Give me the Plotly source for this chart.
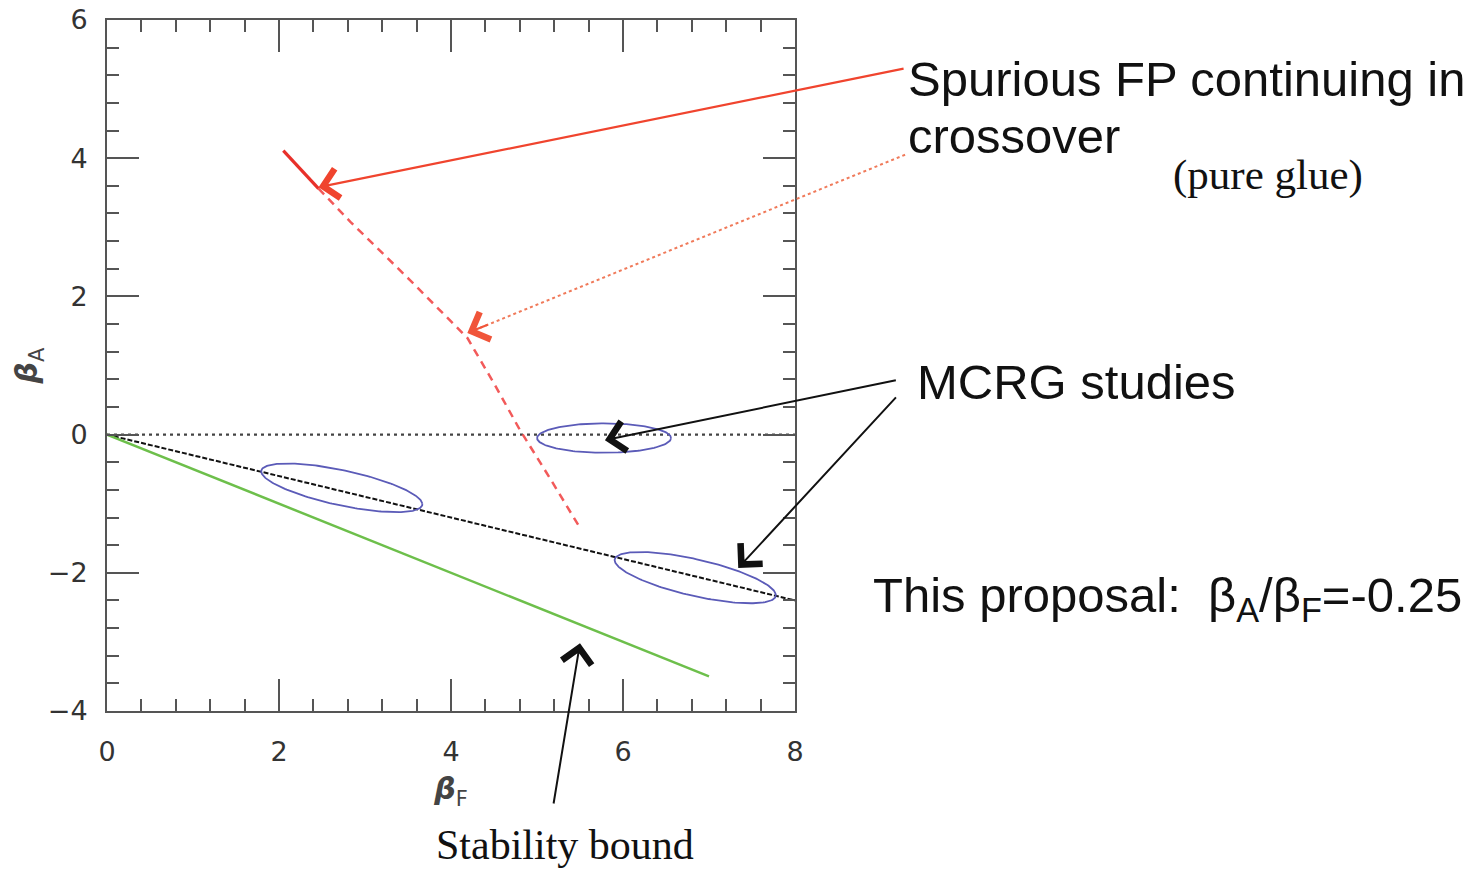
import numpy as np
import plotly.graph_objects as go

# ---------------- data ----------------
x_range = [0, 8]
y_range = [-4, 6]
x_ticks = [0, 2, 4, 6, 8]
y_ticks = [-4, -2, 0, 2, 4, 6]

zero_x = [0, 8]
zero_y = [0, 0]

proposal_x = [0, 8]
proposal_y = [0, -2.4]

stability_x = [0, 7]
stability_y = [0, -3.5]

fp_solid_x = [2.05, 2.46]
fp_solid_y = [4.11, 3.56]

fp_dash_x = [2.46, 2.83, 3.52, 4.19, 4.51, 4.80, 5.15, 5.50]
fp_dash_y = [3.56, 3.08, 2.24, 1.40, 0.72, 0.07, -0.63, -1.35]

# MCRG ellipses: centre, major semi-diameter vector, minor semi-diameter vector (data units)
ell_cx = [2.73, 5.78, 6.84]
ell_cy = [-0.77, -0.05, -2.07]
ell_ax = [0.936, 0.779, 0.936]
ell_ay = [-0.226, 0.0, -0.240]
ell_bx = [-0.042, 0.0, -0.046]
ell_by = [0.270, 0.213, 0.283]

# arrows: tip and tail in data units
arr_tip_x = [2.46, 4.19, 5.79, 7.34, 5.50]
arr_tip_y = [3.58, 1.47, -0.08, -1.93, -3.02]
arr_tail_x = [9.28, 9.28, 9.19, 9.19, 5.19]
arr_tail_y = [5.30, 4.05, 0.79, 0.56, -5.36]

# ---------------- figure ----------------
W, H = 1474, 870
ML, MR, MT, MB = 107, 679, 20, 159
PW, PH = W - ML - MR, H - MT - MB

def px2paper(px, py):
    return (px - ML) / PW, (H - MB - py) / PH

def d2paper(x, y):
    return ((x - x_range[0]) / (x_range[1] - x_range[0]),
            (y - y_range[0]) / (y_range[1] - y_range[0]))

fig = go.Figure()

fig.add_trace(go.Scatter(x=zero_x, y=zero_y, mode="lines",
                         line=dict(color="#444444", width=2.4, dash="3px,4px"),
                         hoverinfo="skip", showlegend=False))
fig.add_trace(go.Scatter(x=proposal_x, y=proposal_y, mode="lines",
                         line=dict(color="#111111", width=2, dash="5px,2px"),
                         hoverinfo="skip", showlegend=False))
fig.add_trace(go.Scatter(x=stability_x, y=stability_y, mode="lines",
                         line=dict(color="#6dbf4b", width=2.5),
                         hoverinfo="skip", showlegend=False))
fig.add_trace(go.Scatter(x=fp_dash_x, y=fp_dash_y, mode="lines",
                         line=dict(color="#f25a5a", width=2.5, dash="8px,6px"),
                         hoverinfo="skip", showlegend=False))
fig.add_trace(go.Scatter(x=fp_solid_x, y=fp_solid_y, mode="lines",
                         line=dict(color="#e8302a", width=3.2),
                         hoverinfo="skip", showlegend=False))

t = np.linspace(0, 2 * np.pi, 200)
for cx, cy, ax_, ay_, bx, by in zip(ell_cx, ell_cy, ell_ax, ell_ay, ell_bx, ell_by):
    fig.add_trace(go.Scatter(x=cx + ax_ * np.cos(t) + bx * np.sin(t),
                             y=cy + ay_ * np.cos(t) + by * np.sin(t),
                             mode="lines", line=dict(color="#5b5bb8", width=1.8),
                             hoverinfo="skip", showlegend=False))

arrow_colors = ["#f0442e", "#f0553a", "#111111", "#111111", "#111111"]
shaft_colors = ["#f0442e", "#f07a5a", "#111111", "#111111", "#111111"]
annotations = []
shapes = []
for i, (tx, ty, sx, sy) in enumerate(zip(arr_tip_x, arr_tip_y, arr_tail_x, arr_tail_y)):
    if i == 1:
        # dotted shaft drawn as a shape, arrowhead via a short annotation
        x0, y0 = d2paper(sx, sy)
        x1, y1 = d2paper(tx, ty)
        shapes.append(dict(type="line", xref="paper", yref="paper",
                           x0=x0, y0=y0, x1=x1, y1=y1,
                           line=dict(color=shaft_colors[i], width=2, dash="dot")))
        sx = tx + 0.05 * (sx - tx)
        sy = ty + 0.05 * (sy - ty)
    annotations.append(dict(x=tx, y=ty, xref="x", yref="y",
                            ax=sx, ay=sy, axref="x", ayref="y",
                            text="", showarrow=True, arrowhead=4,
                            arrowsize=2.6 if i < 2 else 2.9,
                            arrowwidth=2.2 if i < 2 else 2,
                            arrowcolor=arrow_colors[i], standoff=0))

sans = "Liberation Sans, Arial, sans-serif"
serif = "Liberation Serif, Times New Roman, serif"

def text_ann(txt, px, py, size, family, color="#111111"):
    x, y = px2paper(px, py)
    return dict(x=x, y=y, xref="paper", yref="paper", text=txt, showarrow=False,
                xanchor="left", yanchor="middle",
                font=dict(family=family, size=size, color=color))

annotations += [
    text_ann("Spurious FP continuing in", 906, 79, 49, sans),
    text_ann("crossover", 906, 136, 49, sans),
    text_ann("(pure glue)", 1171, 175, 43, serif),
    text_ann("MCRG studies", 915, 382, 49, sans),
    text_ann("This proposal:\u00a0\u00a0β<sub>A</sub>/β<sub>F</sub>=-0.25", 871, 598, 49, sans),
    text_ann("Stability bound", 434, 845, 42, serif),
]

axis_common = dict(showgrid=False, zeroline=False, showline=True, automargin=False,
                   linecolor="#555555", linewidth=2, mirror="allticks",
                   ticks="inside", ticklen=32, tickwidth=2, tickcolor="#555555",
                   tickfont=dict(family="DejaVu Sans, sans-serif", size=27, color="#333333"),
                   minor=dict(dtick=0.4, ticklen=12, tickwidth=2, tickcolor="#555555",
                              ticks="inside", showgrid=False))

fig.update_layout(
    width=W, height=H,
    margin=dict(l=ML, r=MR, t=MT, b=MB, pad=0, autoexpand=False),
    paper_bgcolor="white", plot_bgcolor="white",
    showlegend=False,
    xaxis=dict(range=x_range, tickvals=x_ticks, ticklabelstandoff=16,
               title=dict(text="<i><b>β</b></i><sub>F</sub>", standoff=12,
                          font=dict(family="DejaVu Sans, sans-serif", size=30, color="#444444")),
               **axis_common),
    yaxis=dict(range=y_range, tickvals=y_ticks, ticklabelstandoff=12,
               title=dict(text="<i><b>β</b></i><sub>A</sub>", standoff=1,
                          font=dict(family="DejaVu Sans, sans-serif", size=30, color="#444444")),
               **axis_common),
    annotations=annotations,
    shapes=shapes,
)

fig.write_html("out.html")
